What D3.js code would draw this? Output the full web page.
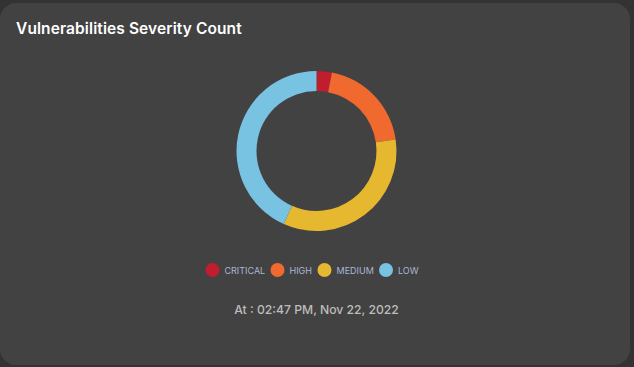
<!DOCTYPE html>
<html lang="en">
<head>
<meta charset="utf-8">
<title>Vulnerabilities Severity Count</title>
<style>
  html, body { margin: 0; padding: 0; background: #333333; }
  svg { display: block; }
  text { font-family: "Inter", "Open Sans", sans-serif; }
</style>
</head>
<body>
<svg id="chart" width="634" height="367"></svg>
<script src="https://d3js.org/d3.v7.min.js"></script>
<script>
var severities = ["CRITICAL", "HIGH", "MEDIUM", "LOW"];
var counts = [3, 19, 33, 42];
var colors = ["#c01d2e", "#f06a30", "#e5b830", "#78c2e2"];

var svg = d3.select("#chart"),
    width = +svg.attr("width"),
    height = +svg.attr("height");

// card
svg.append("rect")
    .attr("x", 0).attr("y", 3)
    .attr("width", 630).attr("height", 362)
    .attr("rx", 16)
    .attr("fill", "#424242");

svg.append("text")
    .attr("x", 16).attr("y", 34)
    .attr("fill", "#ffffff")
    .attr("font-size", 15.5)
    .attr("font-weight", 600)
    .attr("letter-spacing", 0.1)
    .text("Vulnerabilities Severity Count");

var cx = 316.5, cy = 151;

var pie = d3.pie().sort(null).value(function(d) { return d; });
var arc = d3.arc().innerRadius(60).outerRadius(80);

var color = d3.scaleOrdinal().domain(severities).range(colors);

svg.append("g")
    .attr("transform", "translate(" + cx + "," + cy + ")")
  .selectAll("path")
  .data(pie(counts))
  .enter().append("path")
    .attr("d", arc)
    .attr("fill", function(d, i) { return color(severities[i]); });

// legend
var legendX = [212.5, 277.5, 324.5, 386];
var legend = svg.append("g").selectAll("g")
  .data(severities)
  .enter().append("g")
    .attr("transform", function(d, i) { return "translate(" + legendX[i] + ",270)"; });

legend.append("circle")
    .attr("r", 7)
    .attr("fill", function(d) { return color(d); });

legend.append("text")
    .attr("x", 12).attr("y", 3.5)
    .attr("fill", "#a9b6d8")
    .attr("font-size", 9)
    .text(function(d) { return d; });

svg.append("text")
    .attr("x", cx).attr("y", 314)
    .attr("text-anchor", "middle")
    .attr("fill", "#bdbdbd")
    .attr("font-size", 12.2)
    .attr("font-weight", 500)
    .text("At : 02:47 PM, Nov 22, 2022");
</script>
</body>
</html>
